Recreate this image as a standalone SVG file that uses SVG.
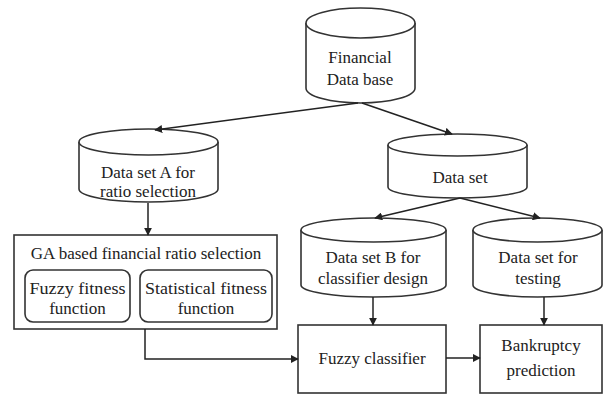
<svg xmlns="http://www.w3.org/2000/svg" width="606" height="396" viewBox="0 0 606 396">
<style>
.s{fill:#fff;stroke:#333;stroke-width:1.6}
.t{font-family:'Liberation Serif',serif;font-size:17px;fill:#222;text-anchor:middle}
.c{fill:none;stroke:#222;stroke-width:1.5}
</style>
<defs>
<marker id="ah" viewBox="0 0 10 10" refX="9" refY="5" markerWidth="8" markerHeight="8" markerUnits="userSpaceOnUse" orient="auto">
<path d="M0,0 L10,5 L0,10 Z" fill="#222"/>
</marker>
</defs>
<rect width="606" height="396" fill="#fff"/>
<g id="financial-db">
<path class="s" d="M306,23 V88 A54.5,15 0 0 0 415,88 V23 A54.5,15 0 0 0 306,23 Z"/>
<path class="s" d="M306,23 A54.5,15 0 0 0 415,23"/>
<text class="t" x="360" y="63">Financial</text>
<text class="t" x="360" y="85">Data base</text>
</g>
<g id="dataset-a">
<path class="s" d="M79,142 V189 A69.5,13 0 0 0 218,189 V142 A69.5,13 0 0 0 79,142 Z"/>
<path class="s" d="M79,142 A69.5,13 0 0 0 218,142"/>
<text class="t" x="148" y="178">Data set A for</text>
<text class="t" x="148" y="197">ratio selection</text>
</g>
<g id="dataset">
<path class="s" d="M388,145 V187 A69.5,11 0 0 0 527,187 V145 A69.5,11 0 0 0 388,145 Z"/>
<path class="s" d="M388,145 A69.5,11 0 0 0 527,145"/>
<text class="t" x="460" y="183">Data set</text>
</g>
<g id="dataset-b">
<path class="s" d="M301,230 V285 A72.5,12 0 0 0 446,285 V230 A72.5,12 0 0 0 301,230 Z"/>
<path class="s" d="M301,230 A72.5,12 0 0 0 446,230"/>
<text class="t" x="373" y="263">Data set B for</text>
<text class="t" x="373" y="284">classifier design</text>
</g>
<g id="dataset-testing">
<path class="s" d="M473,230 V285 A64.5,12 0 0 0 602,285 V230 A64.5,12 0 0 0 473,230 Z"/>
<path class="s" d="M473,230 A64.5,12 0 0 0 602,230"/>
<text class="t" x="538" y="263">Data set for</text>
<text class="t" x="538" y="284">testing</text>
</g>
<g id="ga-selection">
<rect class="s" x="14" y="235" width="263" height="94"/>
<text class="t" x="146" y="259">GA based financial ratio selection</text>
<g id="fuzzy-fitness">
<rect class="s" x="25" y="270" width="105" height="52" rx="8"/>
<text class="t" x="77.5" y="294" textLength="96" lengthAdjust="spacingAndGlyphs">Fuzzy fitness</text>
<text class="t" x="77.5" y="314">function</text>
</g>
<g id="statistical-fitness">
<rect class="s" x="140" y="270" width="132" height="52" rx="8"/>
<text class="t" x="206" y="294" textLength="122" lengthAdjust="spacingAndGlyphs">Statistical fitness</text>
<text class="t" x="206" y="314">function</text>
</g>
</g>
<g id="fuzzy-classifier">
<rect class="s" x="298" y="325" width="148" height="68"/>
<text class="t" x="372" y="364">Fuzzy classifier</text>
</g>
<g id="bankruptcy">
<rect class="s" x="480" y="325" width="122" height="68"/>
<text class="t" x="541" y="351">Bankruptcy</text>
<text class="t" x="541" y="376">prediction</text>
</g>
<g id="connectors">
<path class="c" marker-end="url(#ah)" d="M358,103 L155,130"/>
<path class="c" marker-end="url(#ah)" d="M362,103 L452,134"/>
<path class="c" marker-end="url(#ah)" d="M148,203 L148,235"/>
<path class="c" marker-end="url(#ah)" d="M460,198 L375,218"/>
<path class="c" marker-end="url(#ah)" d="M460,198 L540,218"/>
<path class="c" marker-end="url(#ah)" d="M373,297 L373,325"/>
<path class="c" marker-end="url(#ah)" d="M544,297 L544,325"/>
<path class="c" marker-end="url(#ah)" d="M145,329 V359 H298"/>
<path class="c" marker-end="url(#ah)" d="M446,358 H480"/>
</g>
</svg>
